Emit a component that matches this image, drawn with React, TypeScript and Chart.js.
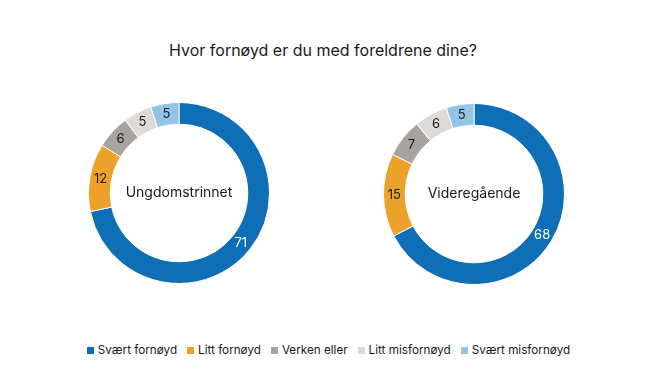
import React, { useEffect, useRef } from "react";
import { Chart, registerables } from "chart.js";
Chart.register(...registerables);

const chartTitle = "Hvor fornøyd er du med foreldrene dine?";
const categories = ["Svært fornøyd", "Litt fornøyd", "Verken eller", "Litt misfornøyd", "Svært misfornøyd"];
const ungdomLabel = "Ungdomstrinnet";
const ungdomValues = [71, 12, 6, 5, 5];
const videreLabel = "Videregående";
const videreValues = [68, 15, 7, 6, 5];
const colors = ["#0F6FB6", "#EBA12A", "#A9A39E", "#DEDBD7", "#94C4E6"];
const valueColors = ["#FFFFFF", "#1A1A1A", "#1A1A1A", "#1A1A1A", "#1A1A1A"];

const FONT = "Inter, 'Noto Sans', sans-serif";

const labelsPlugin = {
  id: "arcLabels",
  afterDatasetsDraw(chart: any) {
    const ctx = chart.ctx;
    const meta = chart.getDatasetMeta(0);
    const data = chart.data.datasets[0].data;
    ctx.save();
    ctx.font = `13px ${FONT}`;
    ctx.textAlign = "center";
    ctx.textBaseline = "middle";
    meta.data.forEach((arc: any, i: number) => {
      const p = arc.getProps(["x", "y", "startAngle", "endAngle", "innerRadius", "outerRadius"], true);
      const a = (p.startAngle + p.endAngle) / 2;
      const r = (p.innerRadius + p.outerRadius) / 2;
      ctx.fillStyle = valueColors[i];
      ctx.fillText(String(data[i]), p.x + Math.cos(a) * r, p.y + Math.sin(a) * r);
    });
    const c = meta.data[0];
    if (c) {
      ctx.font = `14px ${FONT}`;
      ctx.fillStyle = "#1A1A1A";
      ctx.fillText(chart.options.plugins.centerText.text, c.x, c.y);
    }
    ctx.restore();
  },
};

function Donut({ values, label, left, top }: { values: number[]; label: string; left: number; top: number }) {
  const ref = useRef<HTMLCanvasElement>(null);
  useEffect(() => {
    const chart = new Chart(ref.current!, {
      type: "doughnut",
      data: {
        labels: categories,
        datasets: [
          {
            data: values,
            backgroundColor: colors,
            borderColor: "#FFFFFF",
            borderWidth: 1,
          },
        ],
      },
      options: {
        animation: false,
        responsive: false,
        cutout: "76%",
        layout: { padding: 9 },
        plugins: {
          legend: { display: false },
          tooltip: { enabled: false },
          centerText: { text: label },
        } as any,
      },
      plugins: [labelsPlugin],
    });
    return () => chart.destroy();
  }, []);
  return (
    <canvas
      ref={ref}
      width={200}
      height={200}
      style={{ position: "absolute", left, top, width: 200, height: 200 }}
    />
  );
}

export default function App() {
  return (
    <div
      style={{
        position: "absolute",
        left: 0,
        top: 0,
        width: 653,
        height: 373,
        background: "#FFFFFF",
        fontFamily: FONT,
        color: "#1A1A1A",
      }}
    >
      <div
        style={{
          position: "absolute",
          left: 0,
          width: 646,
          top: 40,
          textAlign: "center",
          fontSize: 16,
          lineHeight: "20px",
        }}
      >
        {chartTitle}
      </div>
      <Donut values={ungdomValues} label={ungdomLabel} left={79} top={93} />
      <Donut values={videreValues} label={videreLabel} left={374} top={94} />
      <div
        style={{
          position: "absolute",
          left: 0,
          width: 657,
          top: 342,
          display: "flex",
          justifyContent: "center",
          gap: 10,
          fontSize: 11.7,
          lineHeight: "16px",
        }}
      >
        {categories.map((c, i) => (
          <div key={c} style={{ display: "flex", alignItems: "center" }}>
            <span
              style={{ display: "inline-block", width: 7, height: 7, background: colors[i], marginRight: 4 }}
            />
            <span>{c}</span>
          </div>
        ))}
      </div>
    </div>
  );
}
